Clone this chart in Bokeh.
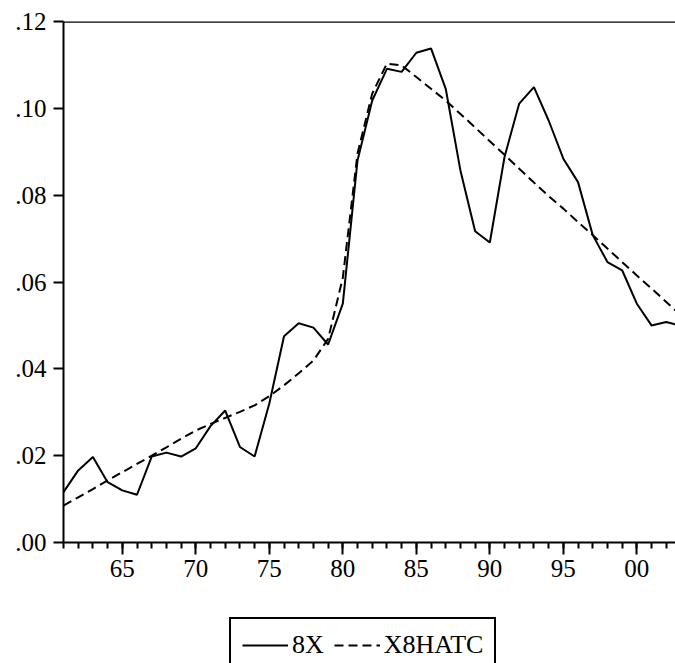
from bokeh.plotting import figure
from bokeh.layouts import column
from bokeh.models import (FixedTicker, CustomJSTickFormatter, Span, Legend, LegendItem, Range1d)
from bokeh.embed import file_html
from bokeh.resources import INLINE

years = list(range(1961, 2004))
x8 = [0.0116, 0.0166, 0.0197, 0.0139, 0.0120, 0.0110, 0.0198, 0.0207, 0.0198, 0.0217,
      0.0268, 0.0304, 0.0220, 0.0198, 0.0320, 0.0475, 0.0505, 0.0495, 0.0456, 0.0550,
      0.0880, 0.1018, 0.1091, 0.1084, 0.1128, 0.1138, 0.1045, 0.0857, 0.0717, 0.0691,
      0.0888, 0.1011, 0.1049, 0.0972, 0.0884, 0.0830, 0.0708, 0.0646, 0.0627, 0.0550,
      0.0500, 0.0508, 0.0499]
x8hatc = [0.0085, 0.0104, 0.0123, 0.0143, 0.0162, 0.0181, 0.0200, 0.0219, 0.0239, 0.0258,
          0.0273, 0.0287, 0.0301, 0.0316, 0.0337, 0.0362, 0.0390, 0.0419, 0.0469, 0.0610,
          0.0896, 0.1034, 0.1103, 0.1099, 0.1072, 0.1045, 0.1018, 0.0987, 0.0956, 0.0924,
          0.0893, 0.0861, 0.0829, 0.0798, 0.0769, 0.0738, 0.0708, 0.0677, 0.0646, 0.0615,
          0.0585, 0.0554, 0.0523]
x_major = [1965, 1970, 1975, 1980, 1985, 1990, 1995, 2000]
y_major = [0.0, 0.02, 0.04, 0.06, 0.08, 0.10, 0.12]
label_solid = "8X"
label_dash = "X8HATC"

FONT = "Liberation Serif"
DASH = "9 5"

p = figure(frame_width=612, frame_height=521, output_backend="svg", toolbar_location=None,
           x_range=Range1d(1961, 2002.63), y_range=Range1d(0, 0.12),
           min_border_left=63, min_border_right=0, min_border_top=21, min_border_bottom=50)
p.outline_line_color = None
p.grid.visible = False
p.background_fill_color = "white"
p.border_fill_color = "white"

r1 = p.line(years, x8, line_color="black", line_width=2)
r2 = p.line(years, x8hatc, line_color="black", line_width=2, line_dash=DASH)

top = Span(location=0.12, dimension="width", line_color="black", line_width=2.5)
p.add_layout(top)

xa = p.xaxis[0]
xa.ticker = FixedTicker(ticks=x_major, minor_ticks=years)
xa.formatter = CustomJSTickFormatter(code="return String(Math.round(tick) % 100).padStart(2, '0');")
xa.axis_line_width = 2
xa.major_tick_line_width = 2
xa.minor_tick_line_width = 2
xa.major_tick_out = 12
xa.major_tick_in = 0
xa.minor_tick_out = 6
xa.minor_tick_in = 0
xa.major_label_standoff = 5
xa.major_label_text_font = FONT
xa.major_label_text_font_size = "25px"
xa.major_label_text_color = "black"

ya = p.yaxis[0]
ya.ticker = FixedTicker(ticks=y_major, minor_ticks=[])
ya.formatter = CustomJSTickFormatter(code="return tick.toFixed(2).replace(/^0/, '');")
ya.axis_line_width = 2
ya.major_tick_line_width = 2
ya.major_tick_out = 10
ya.major_tick_in = 0
ya.minor_tick_out = 0
ya.minor_tick_in = 0
ya.major_label_standoff = 7
ya.major_label_text_font = FONT
ya.major_label_text_font_size = "25px"
ya.major_label_text_color = "black"

# legend strip below the chart (its lines lie outside its own range, only the legend shows)
q = figure(frame_width=675, frame_height=71, output_backend="svg", toolbar_location=None,
           x_range=Range1d(0, 1), y_range=Range1d(0, 1),
           min_border_left=0, min_border_right=0, min_border_top=0, min_border_bottom=0,
           x_axis_type=None, y_axis_type=None)
q.outline_line_color = None
q.grid.visible = False
q.background_fill_color = "white"
q.border_fill_color = "white"
g1 = q.line(years, x8, line_color="black", line_width=2)
g2 = q.line(years, x8hatc, line_color="black", line_width=2, line_dash=DASH)

legend = Legend(items=[LegendItem(label=label_solid, renderers=[g1]),
                       LegendItem(label=label_dash, renderers=[g2])],
                orientation="horizontal", location=(229, -10),
                label_text_font=FONT, label_text_font_size="26px", label_text_color="black",
                glyph_width=46, glyph_height=20, label_standoff=4, spacing=10, padding=11,
                margin=0, border_line_color="black", border_line_width=2, border_line_alpha=1.0,
                background_fill_alpha=1.0)
q.add_layout(legend)

layout = column(p, q, spacing=0)
open("out.html", "w").write(file_html(layout, INLINE))
